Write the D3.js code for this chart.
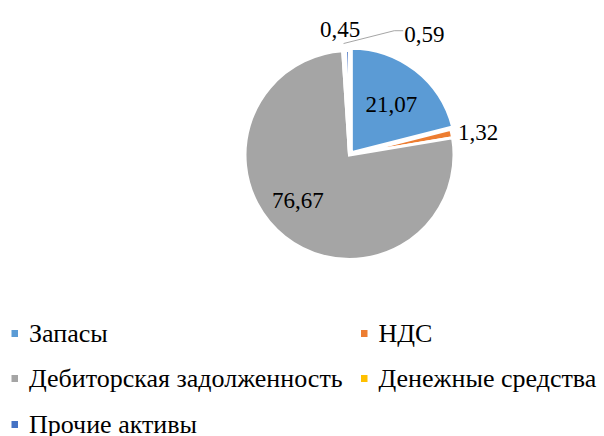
<!DOCTYPE html>
<html>
<head>
<meta charset="utf-8">
<script src="https://cdn.jsdelivr.net/npm/d3@7"></script>
<style>
  html, body { margin: 0; padding: 0; background: #fff; }
  svg { display: block; }
</style>
</head>
<body>
<svg id="chart" width="604" height="436"></svg>
<script>
// Structure of current assets, %
const categories = ["Запасы", "НДС", "Дебиторская задолженность", "Денежные средства", "Прочие активы"];
const values = [21.07, 1.32, 76.67, 0.45, 0.59];
const labels = ["21,07", "1,32", "76,67", "0,45", "0,59"];
const colors = ["#5B9BD5", "#ED7D31", "#A5A5A5", "#FFC000", "#4472C4"];

const FONT = "Liberation Serif, serif";

const svg = d3.select("#chart");
const cx = 349.5, cy = 155, R = 104.5;

const pie = d3.pie().sort(null).value(d => d);
const arcs = pie(values);
const arc = d3.arc().innerRadius(0).outerRadius(R);

// first slice pulled out of the pie
const explode = [3, 0, 0, 0, 0];

const g = svg.append("g").attr("transform", `translate(${cx},${cy})`);

g.selectAll("path.slice")
  .data(arcs)
  .join("path")
  .attr("class", "slice")
  .attr("d", arc)
  .attr("fill", (d, i) => colors[i])
  .attr("stroke", "#fff")
  .attr("stroke-width", 3)
  .attr("stroke-linejoin", "miter")
  .attr("transform", (d, i) => {
    const a = (d.startAngle + d.endAngle) / 2;
    const e = explode[i];
    return `translate(${Math.sin(a) * e},${-Math.cos(a) * e})`;
  });

// data labels: polar placement (radius factor) plus small nudges
const labelLayout = [
  { r: 0.62, dx: 2, dy: 0, anchor: "middle" },
  { r: 1.06, dx: 0, dy: 0, anchor: "start" },
  { r: 0.64, dx: -10, dy: -7, anchor: "middle" },
  { r: 1.21, dx: -3, dy: 0, anchor: "middle" },
  { r: 1.18, dx: 57, dy: 2, anchor: "start" }
];

arcs.forEach((d, i) => {
  const L = labelLayout[i];
  const a = (d.startAngle + d.endAngle) / 2;
  const x = Math.sin(a) * R * L.r + L.dx;
  const y = -Math.cos(a) * R * L.r + L.dy;
  g.append("text")
    .attr("x", x)
    .attr("y", y + 8)
    .attr("text-anchor", L.anchor)
    .style("font-family", FONT)
    .style("font-size", "23px")
    .attr("fill", "#000")
    .text(labels[i]);
  if (i === 4) {
    // leader line from the slice edge to the label
    const ex = Math.sin(a) * R - 4, ey = -Math.cos(a) * R - 7;
    g.append("polyline")
      .attr("points", [[ex, ey], [x - 10, y - 3], [x - 1, y - 3]].map(p => p.join(",")).join(" "))
      .attr("fill", "none")
      .attr("stroke", "#A6A6A6")
      .attr("stroke-width", 1);
  }
});

// legend: two columns, three rows
const legend = svg.append("g");
const colX = [11.5, 361];
const rowY = [342, 387, 433];
categories.forEach((c, i) => {
  const col = i % 2, row = Math.floor(i / 2);
  const lg = legend.append("g").attr("transform", `translate(${colX[col]},${rowY[row]})`);
  lg.append("rect").attr("x", 0).attr("y", -12).attr("width", 6.5).attr("height", 7).attr("fill", colors[i]);
  lg.append("text").attr("x", 17.5).attr("y", 0)
    .style("font-family", FONT)
    .style("font-size", "26px")
    .attr("fill", "#000")
    .text(c);
});
</script>
</body>
</html>
